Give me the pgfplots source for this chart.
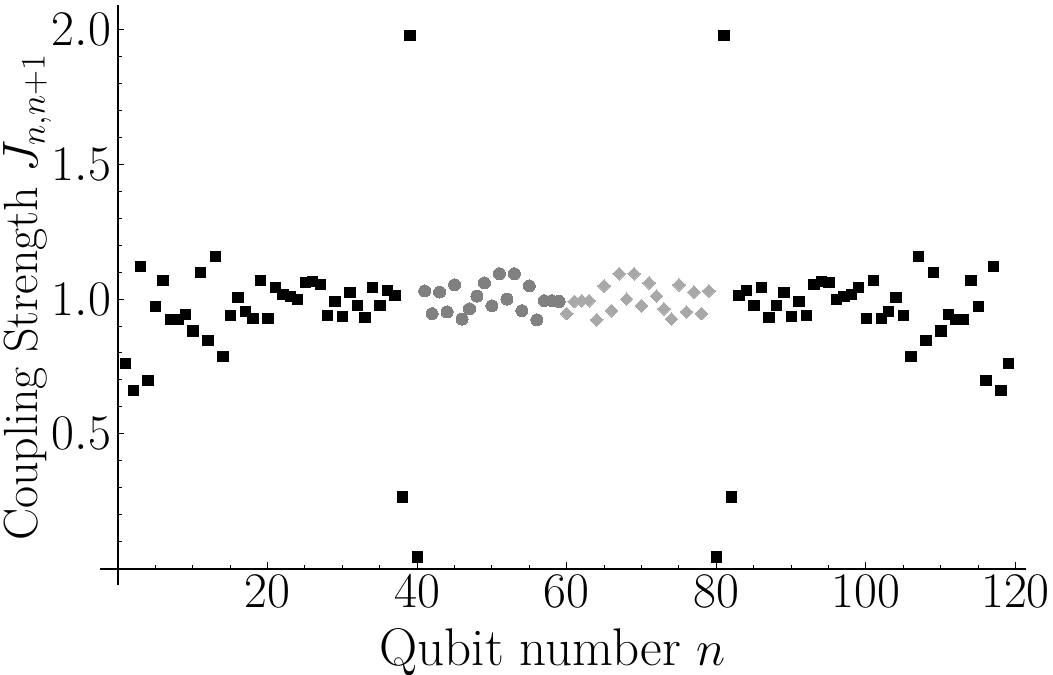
\documentclass[border=0pt]{standalone}
\usepackage{pgfplots}
\pgfplotsset{compat=1.18}
\definecolor{circgray}{HTML}{808080}
\definecolor{diamgray}{HTML}{A8A8A8}
\pgfplotstableread{
n v
1 0.763
2 0.663
3 1.122
4 0.700
5 0.974
6 1.070
7 0.926
8 0.926
9 0.944
10 0.883
11 1.100
12 0.848
13 1.158
14 0.789
15 0.941
16 1.007
17 0.956
18 0.930
19 1.070
20 0.930
21 1.044
22 1.019
23 1.011
24 1.000
25 1.063
26 1.067
27 1.056
28 0.941
29 0.993
30 0.937
31 1.026
32 0.978
33 0.933
34 1.044
35 0.978
36 1.033
37 1.015
38 0.268
39 1.979
40 0.045
80 0.045
81 1.979
82 0.268
83 1.015
84 1.033
85 0.978
86 1.044
87 0.933
88 0.978
89 1.026
90 0.937
91 0.993
92 0.941
93 1.056
94 1.067
95 1.063
96 1.000
97 1.011
98 1.019
99 1.044
100 0.930
101 1.070
102 0.930
103 0.956
104 1.007
105 0.941
106 0.789
107 1.158
108 0.848
109 1.100
110 0.883
111 0.944
112 0.926
113 0.926
114 1.070
115 0.974
116 0.700
117 1.122
118 0.663
119 0.763
}\squares
\pgfplotstableread{
n v
41 1.030
42 0.946
43 1.026
44 0.952
45 1.053
46 0.926
47 0.964
48 1.011
49 1.060
50 0.975
51 1.094
52 1.000
53 1.094
54 0.957
55 1.049
56 0.923
57 0.994
58 0.994
59 0.991
}\circles
\pgfplotstableread{
n v
60 0.946
61 0.991
62 0.994
63 0.994
64 0.923
65 1.049
66 0.957
67 1.094
68 1.000
69 1.094
70 0.975
71 1.060
72 1.011
73 0.964
74 0.926
75 1.053
76 0.952
77 1.026
78 0.946
79 1.030
}\diamonds
\begin{document}
\begin{tikzpicture}
\begin{axis}[
  scale only axis,
  width=463pt, height=290pt,
  xmin=-2.4, xmax=121.4, ymin=-0.06, ymax=2.09,
  axis lines=middle,
  axis line style={-, line width=0.8pt},
  clip=false,
  xtick={20,40,...,120},
  ytick={0.5,1.0,1.5,2.0},
  minor xtick={5,10,...,115},
  minor ytick={0.1,0.2,...,1.95},
  tick align=inside,
  major tick length=3.2pt,
  minor tick length=1.8pt,
  tick style={line width=0.5pt, black},
  yticklabel style={/pgf/number format/fixed, /pgf/number format/fixed zerofill, /pgf/number format/precision=1},
  tick label style={font=\fontsize{24}{28}\selectfont},
  label style={font=\fontsize{24}{28}\selectfont},
  xlabel={Qubit number $n$},
  ylabel={Coupling Strength $J_{n,n+1}$},
  xlabel style={at={(rel axis cs:0.489,-0.138)}, anchor=base, font=\fontsize{26.5}{30}\selectfont},
  ylabel style={at={(rel axis cs:-0.068,0.496)}, rotate=90, anchor=base},
]
\addplot[only marks, mark=square*, mark size=2.6pt, mark options={draw=black, fill=black, line width=0.2pt}] table[x=n, y=v] {\squares};
\addplot[only marks, mark=*, mark size=3pt, mark options={draw=circgray, fill=circgray, line width=0pt}] table[x=n, y=v] {\circles};
\addplot[only marks, mark=square*, mark size=2.25pt, mark options={rotate=45, draw=diamgray, fill=diamgray, line width=0pt}] table[x=n, y=v] {\diamonds};
\end{axis}
\pgfresetboundingbox
\path ([xshift=-50pt, yshift=-44.5pt]current axis.south west) rectangle ([xshift=13.5pt, yshift=2.5pt]current axis.north east);
\end{tikzpicture}
\end{document}
